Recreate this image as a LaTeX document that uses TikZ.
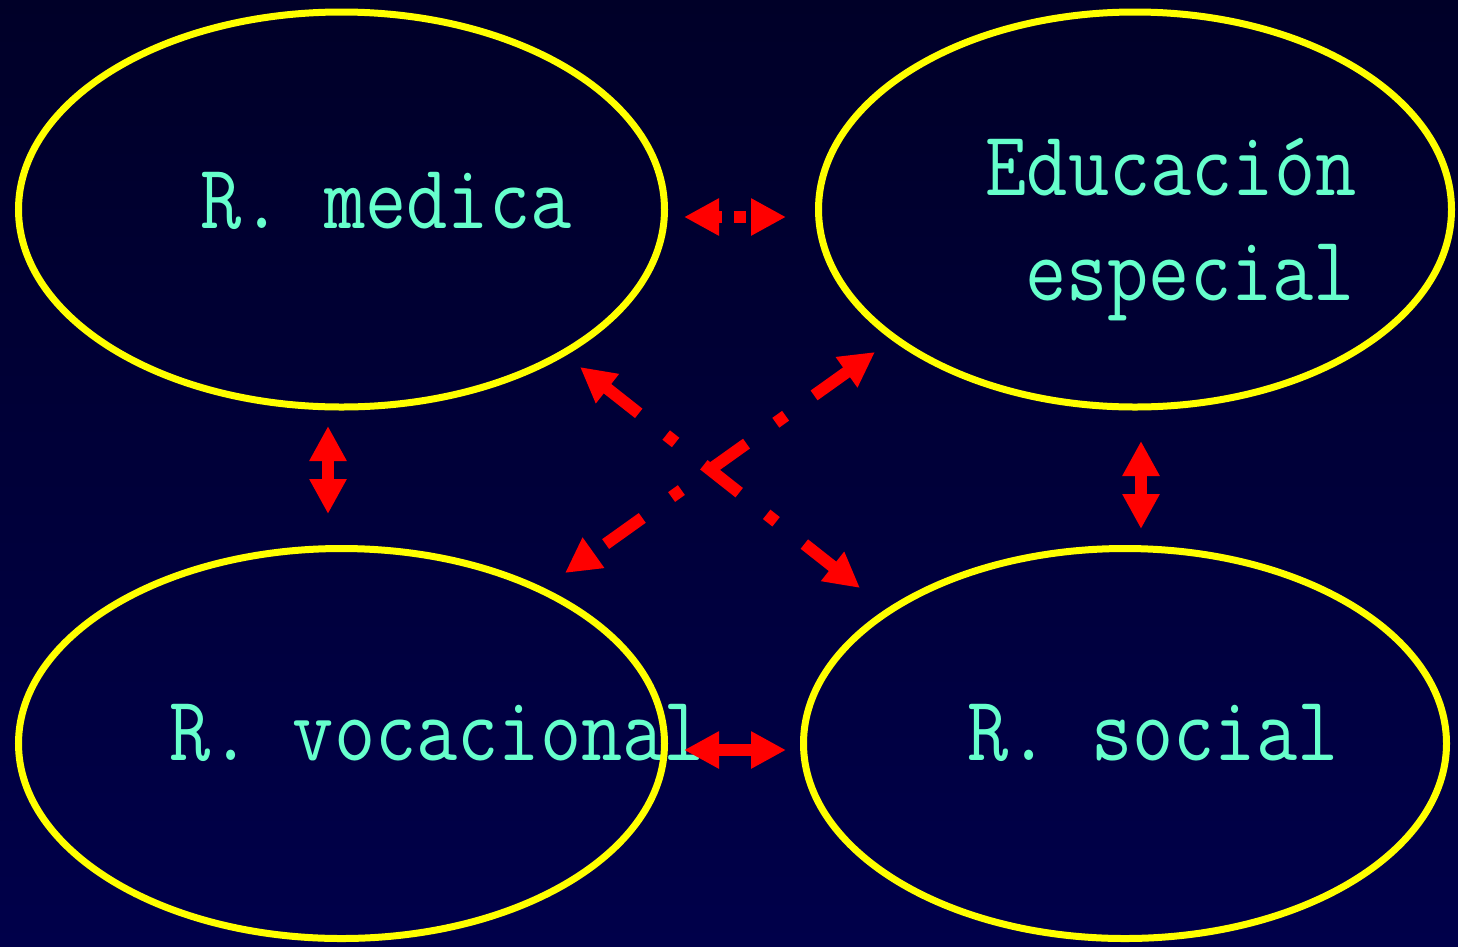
\documentclass[tikz,border=0pt]{standalone}
\usetikzlibrary{arrows.meta,shapes.geometric}
\definecolor{bgtop}{RGB}{0,0,40}
\definecolor{bgbot}{RGB}{0,0,74}
\definecolor{txt}{RGB}{102,255,204}
\definecolor{ring}{RGB}{255,255,0}
\definecolor{arr}{RGB}{255,0,0}
\tikzset{
  oval/.style={ellipse, draw=ring, line width=7pt, inner sep=0pt, outer sep=0pt},
  lbl/.style={text=txt, font=\fontsize{80}{92}\selectfont\ttfamily, anchor=base, inner sep=0pt},
  link/.style={draw=arr, line width=12pt,
    {Triangle[length=35pt,width=35pt]}-{Triangle[length=35pt,width=35pt]}},
  dotlink/.style={link, dash pattern=on 12pt off 12pt, dash phase=7pt},
  dashdotlink/.style={link, dash pattern=on 45pt off 35pt on 12pt off 36pt, dash phase=3pt},
}
\begin{document}
\begin{tikzpicture}[x=1pt,y=-1pt]
\useasboundingbox (0,0) rectangle (1458,946);
\fill[top color=bgtop, bottom color=bgbot] (0,0) rectangle (1458,946);

% labels
\node[lbl] (tmed) at (386,228) {\scalebox{1}[1.15]{R.\ medica}};
\node[lbl] (tedu1) at (1171,195) {\scalebox{1}[1.15]{Educación}};
\node[lbl] (tedu2) at (1190,300) {\scalebox{1}[1.15]{especial}};
\node[lbl] (tvoc) at (437,760) {\scalebox{1}[1.15]{R.\ vocacional}};
\node[lbl] (tsoc) at (1153,760) {\scalebox{1}[1.15]{R.\ social}};

% ellipses
\node[oval, minimum width=646pt, minimum height=395pt] (med) at (341.5,209.5) {};
\node[oval, minimum width=633pt, minimum height=395pt] (edu) at (1135,209.5) {};
\node[oval, minimum width=646pt, minimum height=390pt] (voc) at (341.5,743.5) {};
\node[oval, minimum width=643pt, minimum height=390pt] (soc) at (1125,743.5) {};

% arrow end points
\coordinate (a1s) at (684,217);  \coordinate (a1e) at (786,217);
\coordinate (a2s) at (684,750);  \coordinate (a2e) at (786,750);
\coordinate (a3s) at (328,426);  \coordinate (a3e) at (328,514);
\coordinate (a4s) at (1141,441); \coordinate (a4e) at (1141,529);
\coordinate (a5s) at (580,367);  \coordinate (a5e) at (860,588);
\coordinate (a6s) at (875,352);  \coordinate (a6e) at (565,573);

\draw[dotlink] (a1s) -- (a1e);
\draw[link] (a2s) -- (a2e);
\draw[link] (a3s) -- (a3e);
\draw[link] (a4s) -- (a4e);
\draw[dashdotlink] (a5s) -- (a5e);
\draw[dashdotlink] (a6s) -- (a6e);
\end{tikzpicture}
\end{document}
